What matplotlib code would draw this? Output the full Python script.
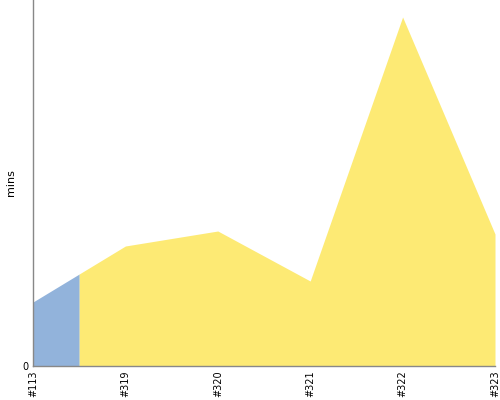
import numpy as np
import matplotlib.pyplot as plt

# build labels and run time in minutes
builds = ['#113', '#319', '#320', '#321', '#322', '#323']
minutes = [6.4, 12.0, 13.5, 8.5, 34.9, 13.2]
# first build is shown in blue up to half way to the next one
split_at = 0.5

blue = '#92b3db'
yellow = '#fdea74'

x = np.arange(len(builds))
y = np.array(minutes)

fig = plt.figure(figsize=(5, 4), dpi=100)
ax = fig.add_axes([33 / 500, 34 / 400, 462 / 500, 366 / 400])

xs_blue = np.linspace(0, split_at, 20)
ax.fill_between(xs_blue, 0, np.interp(xs_blue, x, y), color=blue, lw=0)
xs_yellow = np.concatenate([[split_at], x[x > split_at]])
ax.fill_between(xs_yellow, 0, np.interp(xs_yellow, x, y), color=yellow, lw=0)

ax.set_xlim(0, len(builds) - 1)
ax.set_ylim(0, 36.6)
ax.set_xticks(x)
ax.set_xticklabels(builds, rotation=90, fontsize=7)
ax.set_yticks([0])
ax.set_yticklabels(['0'], fontsize=7)
ax.tick_params(length=0, pad=3)
ax.set_ylabel('mins', fontsize=8, labelpad=5)

for s in ['top', 'right']:
    ax.spines[s].set_visible(False)
for s in ['left', 'bottom']:
    ax.spines[s].set_color('#888888')
    ax.spines[s].set_linewidth(1)

fig.savefig('out.png', dpi=100)
